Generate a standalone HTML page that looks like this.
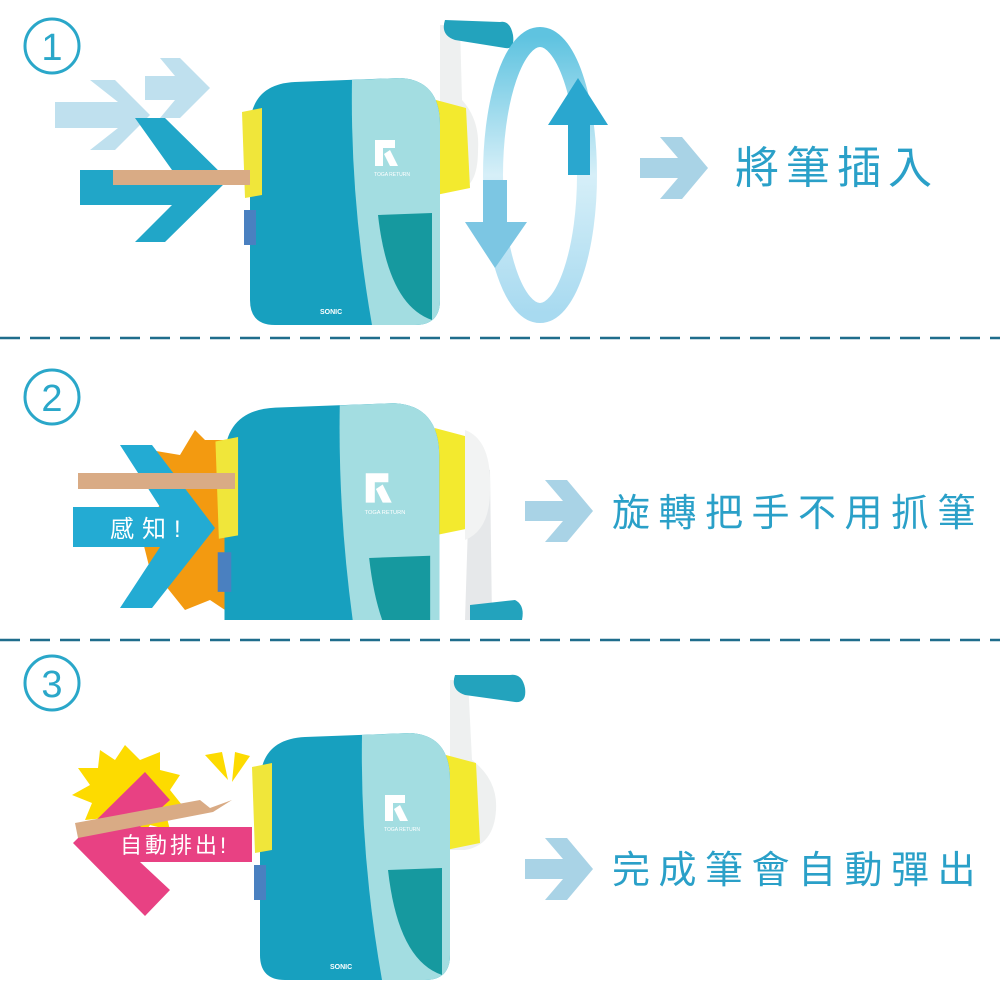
<!DOCTYPE html>
<html><head><meta charset="utf-8"><style>
body{margin:0;background:#fff}
svg{display:block}
text{font-family:"Liberation Sans","Noto Sans CJK TC",sans-serif}
</style></head><body>
<svg width="1000" height="1000" viewBox="0 0 1000 1000" xmlns="http://www.w3.org/2000/svg">
<defs>
<linearGradient id="ring" x1="0" y1="0" x2="0" y2="1">
<stop offset="0" stop-color="#5fc3e0"/><stop offset="0.5" stop-color="#d6eff8"/><stop offset="1" stop-color="#a8daf0"/>
</linearGradient>
<g id="body">
<path d="M436,100 L466,108 L470,188 L436,195 Z" fill="#f3ea2e"/>
<path d="M250,125 Q252,84 295,82 L400,78 Q440,80 440,125 L440,300 Q440,325 415,325 L275,325 Q250,325 250,300 Z" fill="#17a0bf"/>
<path d="M352,80 L400,78 Q440,80 440,125 L440,300 Q440,325 415,325 L372,325 Q350,200 352,80 Z" fill="#a3dde1"/>
<path d="M378,215 L432,213 L432,320 Q388,305 378,215 Z" fill="#16999f"/>
<path d="M242,112 L262,108 L262,195 L245,198 Z" fill="#f0e63a"/>
<path d="M244,210 L256,210 L256,245 L244,245 Z" fill="#4a80c0"/>
<path d="M375,140 h20 v8 h-12 v18 h-8z M390,150 l8,16 h-8 l-6,-12z" fill="#fff"/>
<text x="392" y="176" font-size="5" fill="#fff" text-anchor="middle">TOGA RETURN</text>
<text x="320" y="314" font-size="7" fill="#fff" font-weight="bold">SONIC</text>
</g>
</defs>

<line x1="0" y1="338" x2="1000" y2="338" stroke="#1f6d8c" stroke-width="2.5" stroke-dasharray="20 10"/>
<line x1="0" y1="640" x2="1000" y2="640" stroke="#1f6d8c" stroke-width="2.5" stroke-dasharray="20 10"/>

<g fill="none" stroke="#2aa7c9" stroke-width="3">
<circle cx="52" cy="46" r="27"/><circle cx="52" cy="397" r="27"/><circle cx="52" cy="683" r="27"/>
</g>
<g fill="#2aa7c9" font-size="38" text-anchor="middle">
<text x="52" y="60">1</text><text x="52" y="411">2</text><text x="52" y="697">3</text>
</g>

<!-- SECTION 1 -->
<g fill="#bfe0ee">
<polygon points="90,80 115,80 150,115 115,150 90,150 118,128 55,128 55,102 118,102"/>
<polygon points="160,58 180,58 210,88 180,118 160,118 175,100 145,100 145,76 175,76"/>
</g>
<polygon points="135,118 165,118 228,180 165,242 135,242 172,205 80,205 80,170 172,170" fill="#21a6c8"/>
<path d="M440,25 L460,25 L462,100 Q480,120 478,150 Q478,190 455,190 L440,190 Z" fill="#eef0f0"/>
<path d="M445,20 Q440,35 455,40 L505,48 Q515,50 513,35 Q510,20 500,22 Z" fill="#23a3bd"/>
<use href="#body"/>
<rect x="113" y="170" width="137" height="15" fill="#d9ab85"/>
<ellipse cx="540" cy="175" rx="47" ry="138" fill="none" stroke="url(#ring)" stroke-width="20"/>
<polygon points="578,78 608,125 590,125 590,175 568,175 568,125 548,125" fill="#2aa7cf"/>
<polygon points="495,268 465,222 483,222 483,180 507,180 507,222 527,222" fill="#7cc6e3"/>
<polygon points="660,137 682,137 708,168 682,199 660,199 678,178 640,178 640,158 678,158" fill="#a9d3e6"/>
<text x="735" y="183" font-size="44" fill="#2aa0c8" letter-spacing="7">將筆插入</text>

<!-- SECTION 2 -->
<svg x="0" y="340" width="1000" height="280" viewBox="0 340 1000 280">
<polygon points="150,450 180,455 195,430 205,440 225,440 225,610 210,600 185,610 165,585 150,570 140,530 160,505" fill="#f39a10"/>
<polygon points="120,445 152,445 215,528 152,608 120,608 160,547 73,547 73,507 160,507" fill="#23abd3"/>
<path d="M470,460 L490,470 L492,620 L465,620 Z" fill="#e6e8ea"/>
<path d="M470,605 L515,600 Q525,605 522,620 L470,620 Z" fill="#23a3bd"/>
<use href="#body" transform="translate(-58,315) scale(1.13)"/>
<path d="M465,430 Q492,440 490,490 Q490,530 465,540 Z" fill="#f2f3f3"/>
<rect x="78" y="473" width="157" height="16" fill="#d9ab85"/>
<text x="110" y="537" font-size="24" fill="#fff" letter-spacing="8">感知!</text>
</svg>
<polygon points="545,480 567,480 593,511 567,542 545,542 563,521 525,521 525,501 563,501" fill="#a9d3e6"/>
<text x="612" y="526" font-size="38" fill="#2aa0c8" letter-spacing="8.5">旋轉把手不用抓筆</text>

<!-- SECTION 3 -->
<polygon points="125,745 140,760 160,752 160,770 180,775 170,790 182,805 165,810 170,830 150,825 140,840 128,825 110,835 105,818 85,820 92,803 72,795 90,785 78,768 98,768 100,750 115,760" fill="#fddb00"/>
<polygon points="205,755 222,752 228,780" fill="#fddb00"/>
<polygon points="235,752 250,756 232,782" fill="#fddb00"/>
<polygon points="145,772 170,800 140,827 252,827 252,862 140,862 170,890 145,916 73,843" fill="#e84183"/>
<polygon points="75,823 200,800 210,808 232,800 213,812 78,838" fill="#d9ab85"/>
<text x="120" y="853" font-size="22" fill="#fff" letter-spacing="3">自動排出!</text>
<path d="M450,680 L468,680 L472,760 Q498,780 496,810 Q494,845 465,850 L450,850 Z" fill="#eef0f0"/>
<path d="M455,675 Q450,690 465,695 L515,702 Q527,703 525,688 Q522,673 510,675 Z" fill="#23a3bd"/>
<use href="#body" transform="translate(10,655)"/>
<polygon points="545,838 567,838 593,869 567,900 545,900 563,879 525,879 525,859 563,859" fill="#a9d3e6"/>
<text x="612" y="883" font-size="38" fill="#2aa0c8" letter-spacing="8.5">完成筆會自動彈出</text>
</svg>
</body></html>
